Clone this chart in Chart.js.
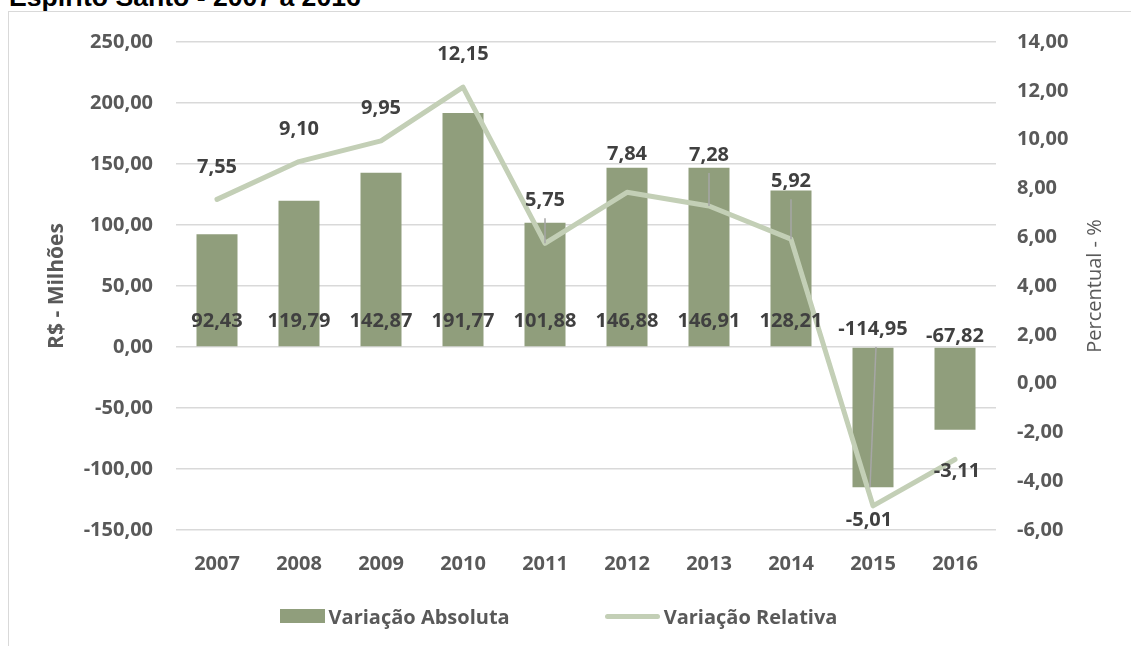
<!DOCTYPE html>
<html>
<head>
<meta charset="utf-8">
<script src="https://cdn.jsdelivr.net/npm/chart.js@4/dist/chart.umd.min.js"></script>
<style>
	body { margin: 0; background: #fff; overflow: hidden; }
	#wrap { position: relative; width: 1131px; height: 646px; overflow: hidden; }
	#frame { position: absolute; left: 8px; top: 11px; width: 1200px; height: 800px; border: 1.5px solid #d9d9d9; }
	#title { position: absolute; left: 9px; top: -16px; font: bold 26.6px 'Liberation Sans', Arial, sans-serif; line-height: 26px; color: #000; white-space: nowrap; }
	#chart { position: absolute; left: 0; top: 0; }
	#legend { position: absolute; left: 0; top: 604px; width: 1117px; height: 24px; display: flex; justify-content: center; align-items: center; gap: 95px; font: bold 20px 'Open Sans', sans-serif; color: #595959; }
	#legend .item { display: flex; align-items: center; white-space: nowrap; }
	#legend .swatch { margin-right: 4px; }
</style>
</head>
<body>
<div id="wrap">
	<div id="frame"></div>
	<div id="title">Espírito Santo - 2007 a 2016</div>
	<canvas id="chart" width="1131" height="646"></canvas>
	<div id="legend"></div>
</div>
<script>
const years = ['2007', '2008', '2009', '2010', '2011', '2012', '2013', '2014', '2015', '2016']
const absoluteValues = [92.43, 119.79, 142.87, 191.77, 101.88, 146.88, 146.91, 128.21, -114.95, -67.82]	// R$ milhões
const relativeValues = [7.55, 9.10, 9.95, 12.15, 5.75, 7.84, 7.28, 5.92, -5.01, -3.11]	// %

const leftAxis = { min: -150, max: 250, step: 50 }
const rightAxis = { min: -6, max: 14, step: 2 }

// label nudges (px) as placed in the original
const barLabelDy = [-26, -26, -26, -26, -26, -26, -26, -26, -18, -11]
const lineLabelShift = [[0, -32], [0, -32], [0, -33], [0, -33], [0, -43], [0, -38], [0, -51], [0, -58], [-4, 14], [2, 12]]
const barLeaders = ['2015']

const barColor = '#909e7c'
const lineColor = '#c3cfb6'
const axisText = '#595959'
const labelText = '#404040'

const fmt = v => v.toLocaleString('pt-BR', { minimumFractionDigits: 2, maximumFractionDigits: 2 })

Chart.defaults.font.family = "'Open Sans', sans-serif"
Chart.defaults.font.weight = 'bold'
Chart.defaults.font.size = 20
Chart.defaults.color = axisText

const valueLabels = {
	id: 'valueLabels',
	afterDatasetsDraw(chart) {
		const ctx = chart.ctx
		const zero = chart.scales.y.getPixelForValue(0)
		const bars = chart.getDatasetMeta(0).data
		const points = chart.getDatasetMeta(1).data

		ctx.save()
		ctx.strokeStyle = '#a6a6a6'
		ctx.lineWidth = 1.5

		// leader lines
		bars.forEach((bar, i) => {
			if (!barLeaders.includes(years[i])) return
			ctx.beginPath()
			ctx.moveTo(bar.x + 3, zero)
			ctx.lineTo(bar.x - 3, bar.y)
			ctx.stroke()
		})
		points.forEach((pt, i) => {
			const [dx, dy] = lineLabelShift[i]
			if (dy > -40) return
			ctx.beginPath()
			ctx.moveTo(pt.x, pt.y + dy + 18)
			ctx.lineTo(pt.x, pt.y)
			ctx.stroke()
		})

		ctx.font = "bold 20px 'Open Sans', sans-serif"
		ctx.fillStyle = labelText
		ctx.textAlign = 'center'
		ctx.textBaseline = 'middle'
		bars.forEach((bar, i) => {
			ctx.fillText(fmt(absoluteValues[i]), bar.x, zero + barLabelDy[i])
		})
		points.forEach((pt, i) => {
			const [dx, dy] = lineLabelShift[i]
			ctx.fillText(fmt(relativeValues[i]), pt.x + dx, pt.y + dy)
		})
		ctx.restore()
	}
}

const rightTitle = {
	id: 'rightTitle',
	afterDraw(chart) {
		const ctx = chart.ctx
		const area = chart.chartArea
		const y1 = chart.scales.y1
		ctx.save()
		ctx.translate(y1.right - 36, (area.top + area.bottom) / 2)
		ctx.rotate(-Math.PI / 2)
		ctx.font = "20px 'Open Sans', sans-serif"
		ctx.fillStyle = axisText
		ctx.textAlign = 'center'
		ctx.textBaseline = 'middle'
		ctx.fillText('Percentual - %', 0, 0)
		ctx.restore()
	}
}

const chart = new Chart(document.getElementById('chart'), {
	data: {
		labels: years,
		datasets: [
			{
				type: 'bar',
				label: 'Variação Absoluta',
				data: absoluteValues,
				yAxisID: 'y',
				backgroundColor: barColor,
				barPercentage: 0.5,
				categoryPercentage: 1.0,
				order: 2
			},
			{
				type: 'line',
				label: 'Variação Relativa',
				data: relativeValues,
				yAxisID: 'y1',
				borderColor: lineColor,
				backgroundColor: lineColor,
				borderWidth: 5,
				borderJoinStyle: 'round',
				borderCapStyle: 'round',
				pointRadius: 0,
				tension: 0,
				order: 1
			}
		]
	},
	options: {
		responsive: false,
		animation: false,
		layout: { padding: { top: 42, left: 0, right: 0, bottom: 0 } },
		plugins: {
			legend: { display: false },
			tooltip: { enabled: false }
		},
		scales: {
			x: {
				grid: { display: false },
				border: { display: false },
				ticks: { padding: 14 },
				afterFit: s => { s.height = 116 }
			},
			y: {
				position: 'left',
				min: leftAxis.min,
				max: leftAxis.max,
				ticks: { stepSize: leftAxis.step, padding: 23, callback: v => fmt(v) },
				grid: { color: '#d9d9d9', lineWidth: 1.5, drawTicks: false },
				border: { display: false },
				title: {
					display: true,
					text: 'R$ - Milhões',
					font: { size: 21, weight: 'bold' },
					color: axisText,
					padding: { top: 44, bottom: 0 }
				},
				afterFit: s => { s.width = 176 }
			},
			y1: {
				position: 'right',
				min: rightAxis.min,
				max: rightAxis.max,
				ticks: { stepSize: rightAxis.step, padding: 21, callback: v => fmt(v) },
				grid: { drawOnChartArea: false, drawTicks: false },
				border: { display: false },
				afterFit: s => { s.width = 135 }
			}
		}
	},
	plugins: [valueLabels, rightTitle]
})

// legend in the page, built from the chart's datasets
const legendBox = document.getElementById('legend')
chart.data.datasets.forEach(ds => {
	const item = document.createElement('div')
	item.className = 'item'
	const swatch = document.createElement('span')
	swatch.className = 'swatch'
	if (ds.type === 'bar') {
		swatch.style.cssText = `display:inline-block;width:45px;height:14px;background:${ds.backgroundColor}`
	} else {
		swatch.style.cssText = `display:inline-block;width:55px;height:5px;border-radius:3px;background:${ds.borderColor}`
	}
	const text = document.createElement('span')
	text.innerText = ds.label
	item.appendChild(swatch)
	item.appendChild(text)
	legendBox.appendChild(item)
})
</script>
</body>
</html>
